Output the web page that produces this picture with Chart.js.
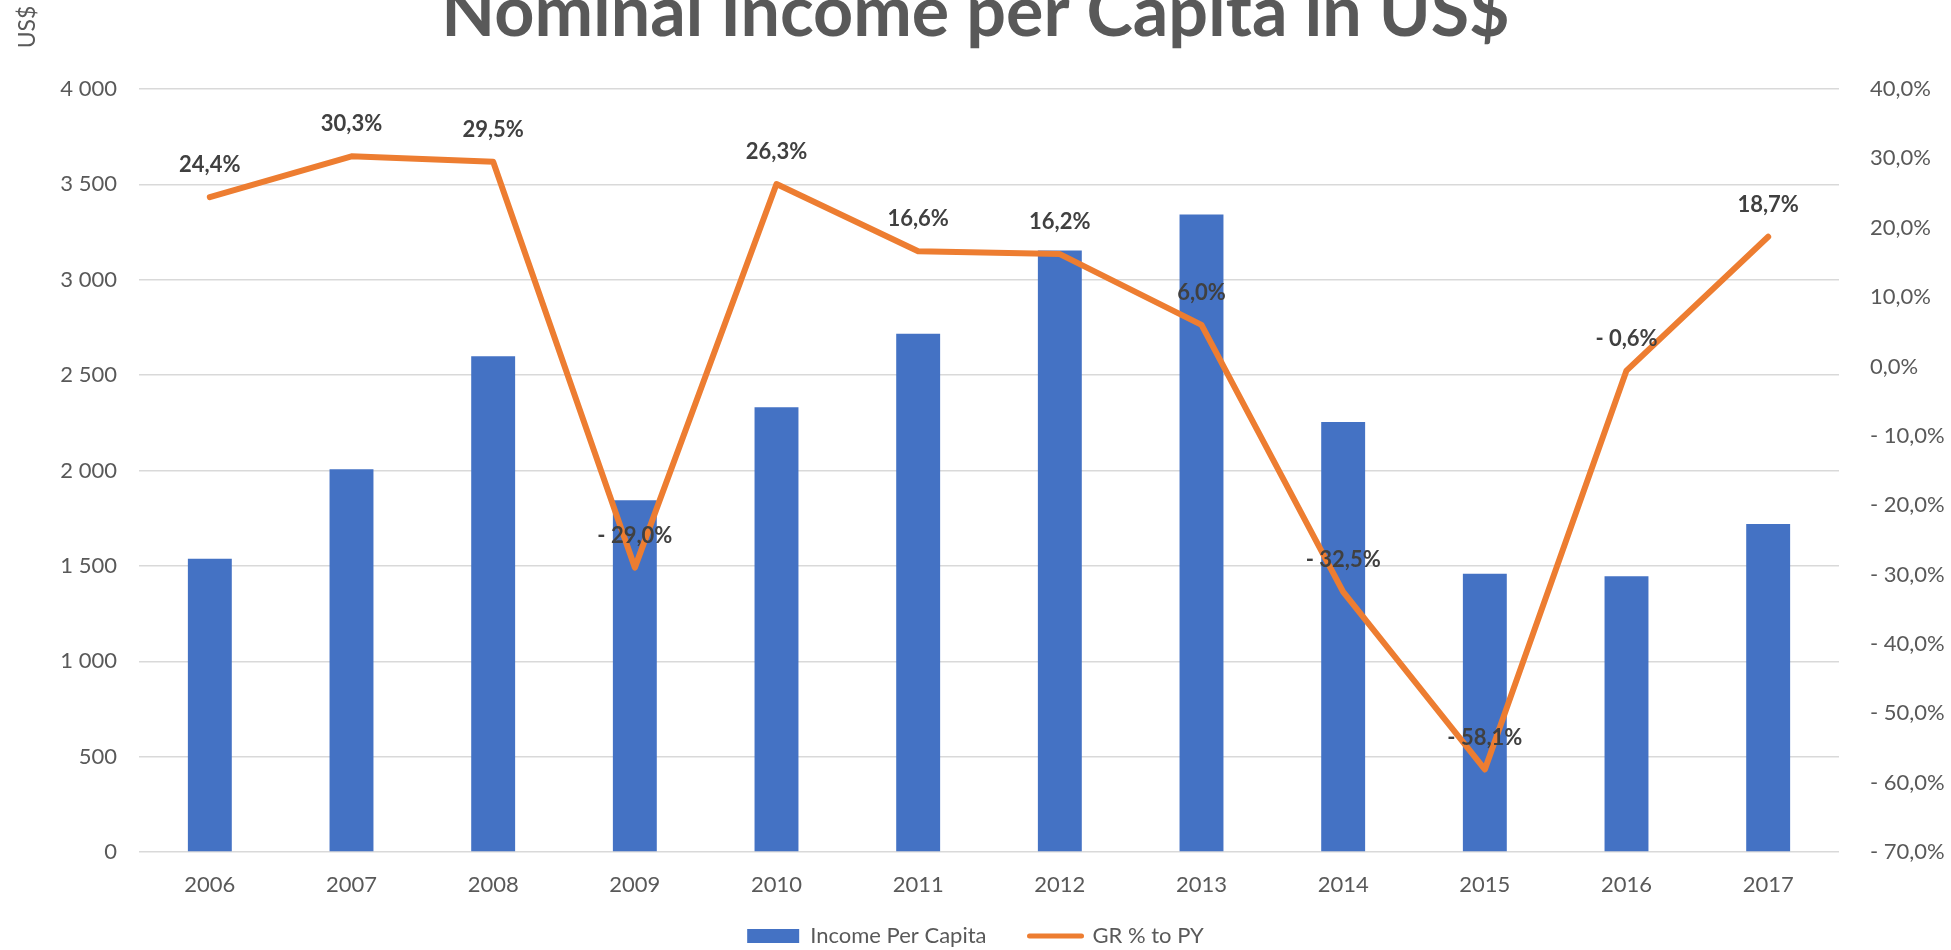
<!DOCTYPE html>
<html>
<head>
<meta charset="utf-8">
<script src="https://cdn.jsdelivr.net/npm/chart.js@4/dist/chart.umd.min.js"></script>
<style>
  html, body { margin: 0; padding: 0; background: #fff; }
  #wrap { width: 1951px; height: 950px; }
</style>
</head>
<body>
<div id="wrap"><canvas id="canvas" width="1951" height="950"></canvas></div>
<script>
  // data
  const years = ['2006', '2007', '2008', '2009', '2010', '2011', '2012', '2013', '2014', '2015', '2016', '2017'];
  const income = [1537, 2006, 2599, 1844, 2332, 2717, 3153, 3342, 2254, 1459, 1446, 1720];
  const growth = [24.4, 30.3, 29.5, -29.0, 26.3, 16.6, 16.2, 6.0, -32.5, -58.1, -0.6, 18.7];

  const FONT = "Lato, 'Open Sans', sans-serif";
  const GREY = '#595959';
  const BLUE = '#4472c4';
  const ORANGE = '#ed7d31';

  function fmtThousands(v) {
    return String(v).replace(/\B(?=(\d{3})+(?!\d))/g, ' ');
  }
  function fmtPct(v) {
    const s = Math.abs(v).toFixed(1).replace('.', ',') + '%';
    return v < 0 ? '- ' + s : s;
  }

  // labels above the line points
  const pointLabels = {
    id: 'pointLabels',
    afterDatasetsDraw(chart) {
      const ctx = chart.ctx;
      const meta = chart.getDatasetMeta(1);
      ctx.save();
      ctx.font = 'bold 22px ' + FONT;
      ctx.fillStyle = '#404040';
      ctx.textAlign = 'center';
      ctx.textBaseline = 'middle';
      meta.data.forEach((pt, i) => {
        ctx.fillText(fmtPct(growth[i]), pt.x, pt.y - 32);
      });
      ctx.restore();
    }
  };

  // rotated unit label in the top left corner
  const unitLabel = {
    id: 'unitLabel',
    afterDraw(chart) {
      const ctx = chart.ctx;
      ctx.save();
      ctx.translate(28, 27);
      ctx.rotate(-Math.PI / 2);
      ctx.font = '23px ' + FONT;
      ctx.fillStyle = GREY;
      ctx.textAlign = 'center';
      ctx.textBaseline = 'middle';
      ctx.fillText('US$', 0, 0);
      ctx.restore();
    }
  };

  const ctx = document.getElementById('canvas').getContext('2d');
  const chart = new Chart(ctx, {
    type: 'bar',
    data: {
      labels: years,
      datasets: [
        {
          type: 'bar',
          label: 'Income Per Capita',
          data: income,
          backgroundColor: BLUE,
          borderWidth: 0,
          yAxisID: 'y',
          categoryPercentage: 1,
          barPercentage: 0.31,
          order: 2
        },
        {
          type: 'line',
          label: 'GR % to PY',
          data: growth,
          borderColor: ORANGE,
          backgroundColor: ORANGE,
          borderWidth: 6,
          borderCapStyle: 'round',
          borderJoinStyle: 'round',
          pointRadius: 0,
          pointHoverRadius: 0,
          tension: 0,
          yAxisID: 'y1',
          order: 1
        }
      ]
    },
    options: {
      responsive: false,
      animation: false,
      layout: { padding: 0 },
      plugins: {
        tooltip: { enabled: false },
        title: {
          display: true,
          text: 'Nominal Income per Capita in US$',
          color: GREY,
          font: { family: FONT, size: 70, weight: 'bold', lineHeight: 1 },
          padding: { top: -22, bottom: 41 }
        },
        legend: {
          position: 'bottom',
          maxHeight: 35,
          labels: {
            color: GREY,
            font: { family: FONT, size: 22 },
            usePointStyle: true,
            pointStyleWidth: 52,
            boxHeight: 14,
            padding: 10,
            sort: (a, b) => a.datasetIndex - b.datasetIndex,
            generateLabels(chart) {
              const items = Chart.defaults.plugins.legend.labels.generateLabels(chart);
              items.forEach(it => {
                if (it.datasetIndex === 0) {
                  it.pointStyle = 'rect';
                  it.fillStyle = BLUE;
                  it.lineWidth = 0;
                  it.text = it.text + '\u2003\u2003';
                } else {
                  it.pointStyle = 'line';
                  it.strokeStyle = ORANGE;
                  it.lineWidth = 5;
                  it.lineCap = 'round';
                }
              });
              return items;
            }
          }
        }
      },
      scales: {
        x: {
          grid: { display: false, drawTicks: false },
          border: { display: false },
          ticks: { color: GREY, font: { family: FONT, size: 22 }, padding: 20 },
          afterFit(scale) { scale.height = 63; }
        },
        y: {
          position: 'left',
          min: 0,
          max: 4000,
          grid: { color: '#d9d9d9', lineWidth: 1.5, drawTicks: false },
          border: { display: false },
          ticks: {
            stepSize: 500,
            color: GREY,
            font: { family: FONT, size: 22 },
            padding: 22,
            callback: v => fmtThousands(v)
          },
          afterFit(scale) { scale.width = 139; }
        },
        y1: {
          position: 'right',
          min: -70,
          max: 40,
          grid: { display: false, drawTicks: false },
          border: { display: false },
          ticks: {
            stepSize: 10,
            color: GREY,
            font: { family: FONT, size: 22 },
            padding: 31,
            callback: v => fmtPct(v)
          },
          afterFit(scale) { scale.width = 112; }
        }
      }
    },
    plugins: [pointLabels, unitLabel]
  });
</script>
</body>
</html>
